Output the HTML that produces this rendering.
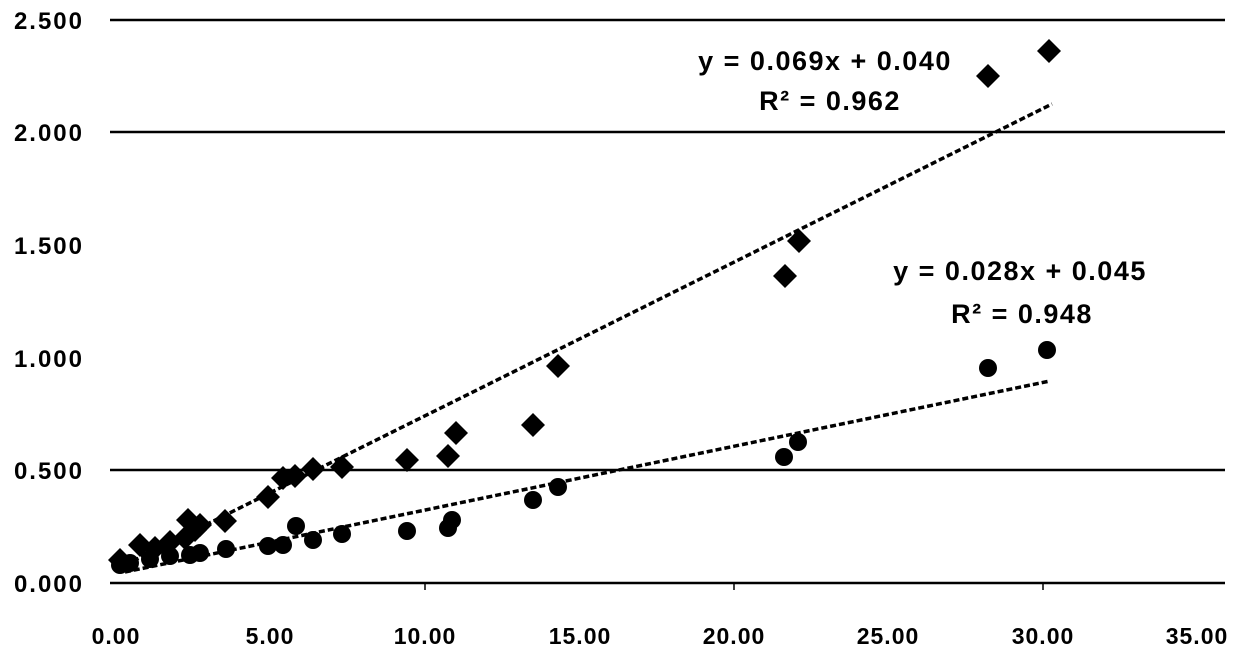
<!DOCTYPE html><html><head><style>body{margin:0;background:#fff}svg text{font-family:"Liberation Sans",sans-serif;font-weight:bold;fill:#000}</style></head><body>
<svg width="1240" height="654" xmlns="http://www.w3.org/2000/svg">
<g stroke="#000" stroke-width="2.5">
<line x1="110" y1="20" x2="1225" y2="20"/><line x1="110" y1="132" x2="1225" y2="132"/>
<line x1="110" y1="470" x2="1225" y2="470"/><line x1="110" y1="583" x2="1225" y2="583"/>
</g>
<g stroke="#000" stroke-width="1.5">
<line x1="425" y1="583" x2="425" y2="590"/><line x1="734" y1="583" x2="734" y2="590"/><line x1="1043" y1="583" x2="1043" y2="590"/>
</g>
<g font-size="24" text-anchor="end" letter-spacing="2">
<text x="84" y="29">2.500</text><text x="84" y="141">2.000</text><text x="84" y="254">1.500</text>
<text x="84" y="367">1.000</text><text x="84" y="479">0.500</text><text x="84" y="592">0.000</text>
</g>
<g font-size="23" text-anchor="middle" letter-spacing="1">
<text x="116" y="644">0.00</text><text x="270" y="644">5.00</text><text x="425" y="644">10.00</text><text x="580" y="644">15.00</text>
<text x="734" y="644">20.00</text><text x="888" y="644">25.00</text><text x="1043" y="644">30.00</text><text x="1197" y="644">35.00</text>
</g>
<g stroke="#000" stroke-width="3.5" stroke-dasharray="6,3">
<line x1="125" y1="565" x2="1052" y2="104"/>
<line x1="125" y1="572" x2="1050" y2="381"/>
</g>
<g fill="#000">
<path d="M0,-12L12,0L0,12L-12,0Z" transform="translate(120,560)"/><path d="M0,-12L12,0L0,12L-12,0Z" transform="translate(140,545)"/>
<path d="M0,-12L12,0L0,12L-12,0Z" transform="translate(155,548)"/><path d="M0,-12L12,0L0,12L-12,0Z" transform="translate(170,542)"/>
<path d="M0,-12L12,0L0,12L-12,0Z" transform="translate(185,538)"/><path d="M0,-12L12,0L0,12L-12,0Z" transform="translate(195,530)"/>
<path d="M0,-12L12,0L0,12L-12,0Z" transform="translate(200,525)"/><path d="M0,-12L12,0L0,12L-12,0Z" transform="translate(188,520)"/>
<path d="M0,-12L12,0L0,12L-12,0Z" transform="translate(225,521)"/><path d="M0,-12L12,0L0,12L-12,0Z" transform="translate(268,497)"/>
<path d="M0,-12L12,0L0,12L-12,0Z" transform="translate(283,478)"/><path d="M0,-12L12,0L0,12L-12,0Z" transform="translate(295,476)"/>
<path d="M0,-12L12,0L0,12L-12,0Z" transform="translate(313,469)"/><path d="M0,-12L12,0L0,12L-12,0Z" transform="translate(342,467)"/>
<path d="M0,-12L12,0L0,12L-12,0Z" transform="translate(407,460)"/><path d="M0,-12L12,0L0,12L-12,0Z" transform="translate(448,456)"/>
<path d="M0,-12L12,0L0,12L-12,0Z" transform="translate(456,433)"/><path d="M0,-12L12,0L0,12L-12,0Z" transform="translate(533,425)"/>
<path d="M0,-12L12,0L0,12L-12,0Z" transform="translate(558,366)"/><path d="M0,-12L12,0L0,12L-12,0Z" transform="translate(785,276)"/>
<path d="M0,-12L12,0L0,12L-12,0Z" transform="translate(799,241)"/><path d="M0,-12L12,0L0,12L-12,0Z" transform="translate(988,76)"/>
<path d="M0,-12L12,0L0,12L-12,0Z" transform="translate(1049,51)"/>
<circle cx="120" cy="565" r="9"/><circle cx="130" cy="563" r="9"/><circle cx="150" cy="559" r="9"/><circle cx="170" cy="556" r="9"/>
<circle cx="190" cy="555" r="9"/><circle cx="200" cy="553" r="9"/><circle cx="226" cy="549" r="9"/><circle cx="268" cy="546" r="9"/>
<circle cx="283" cy="545" r="9"/><circle cx="296" cy="526" r="9"/><circle cx="313" cy="540" r="9"/><circle cx="342" cy="534" r="9"/>
<circle cx="407" cy="531" r="9"/><circle cx="448" cy="528" r="9"/><circle cx="452" cy="520" r="9"/><circle cx="533" cy="500" r="9"/>
<circle cx="558" cy="487" r="9"/><circle cx="784" cy="457" r="9"/><circle cx="798" cy="442" r="9"/><circle cx="988" cy="368" r="9"/>
<circle cx="1047" cy="350" r="9"/>
</g>
<g font-size="27" text-anchor="middle" letter-spacing="1.5">
<text x="825" y="70">y = 0.069x + 0.040</text><text x="830" y="110">R² = 0.962</text>
<text x="1020" y="280">y = 0.028x + 0.045</text><text x="1022" y="323">R² = 0.948</text>
</g>
</svg></body></html>
